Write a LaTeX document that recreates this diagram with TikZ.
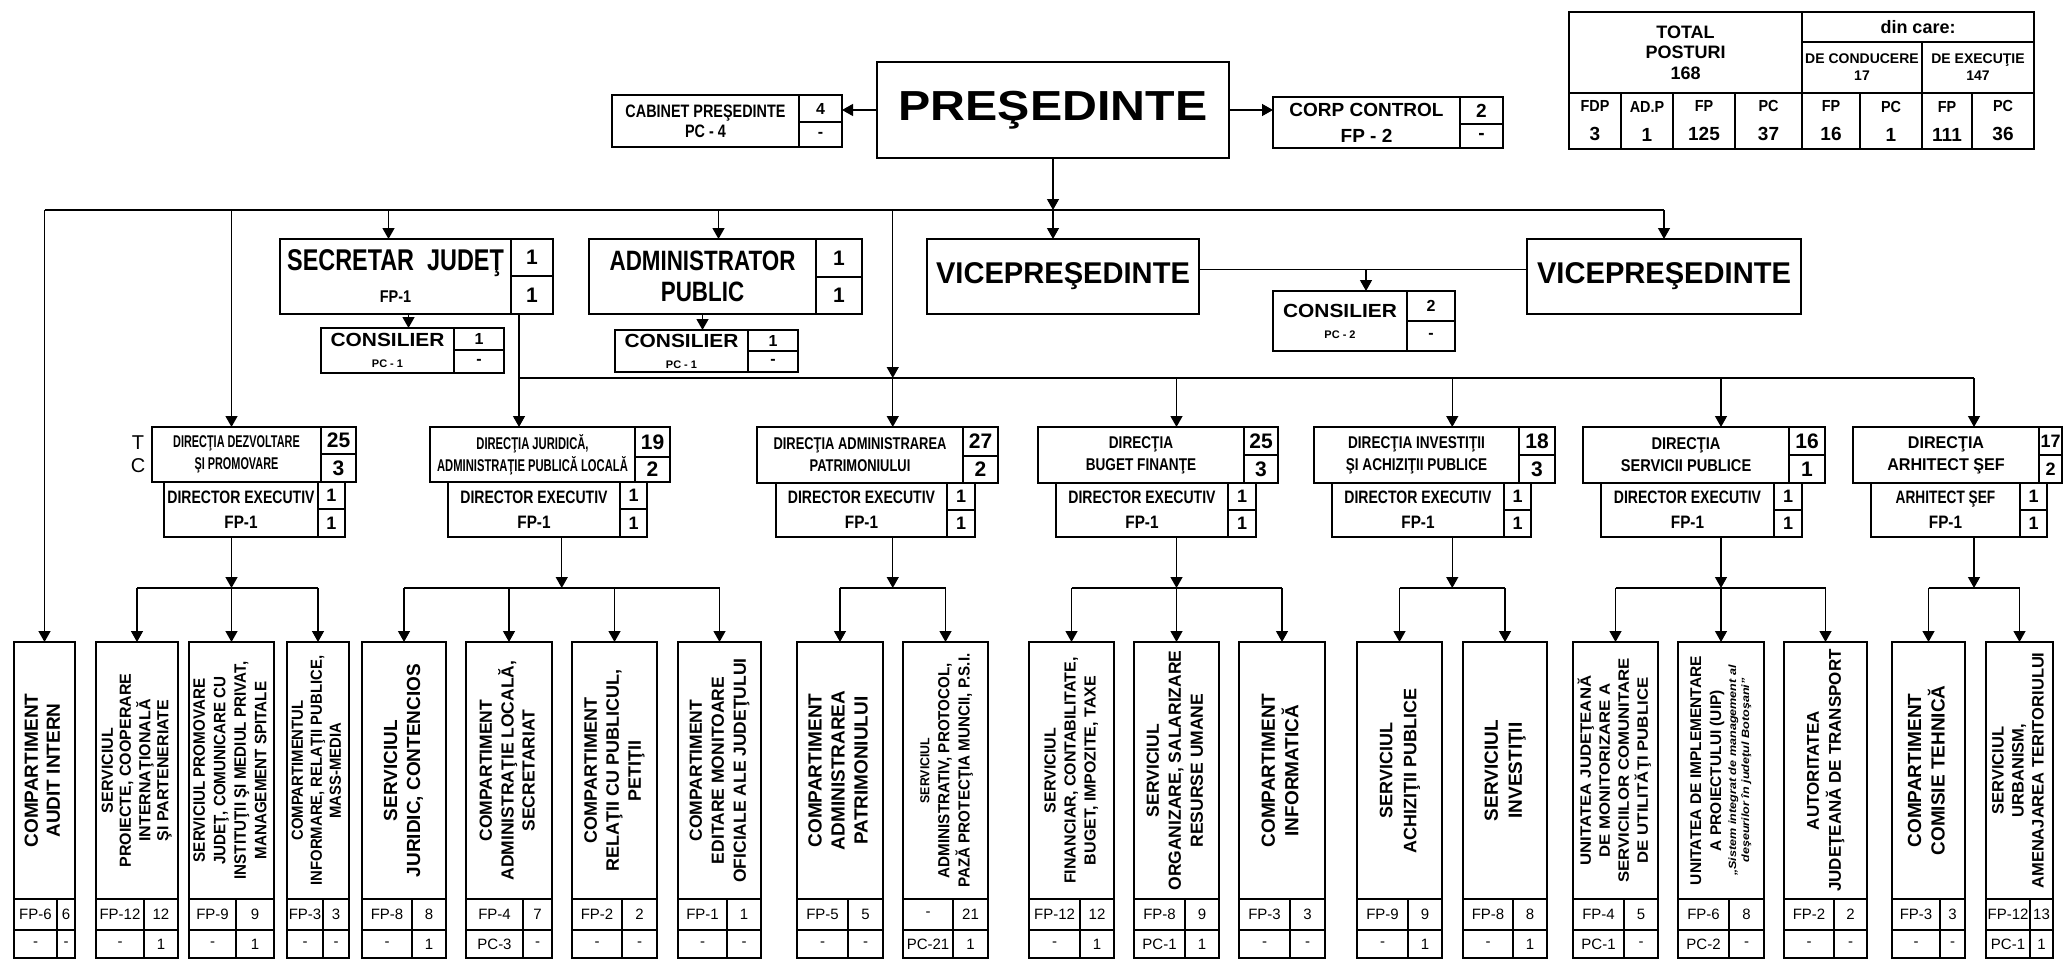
\documentclass[tikz,border=0pt]{standalone}
\usepackage{fontspec}
\setmainfont{Liberation Sans}
\usetikzlibrary{arrows.meta,calc}
\newcommand{\fs}[2]{\fontsize{#1}{#2}\selectfont}
\newcommand{\sx}[2]{\scalebox{#1}[1]{#2}}
\newcommand{\tl}[1]{\begin{tabular}{@{}c@{}}#1\end{tabular}}
\tikzset{
  ln/.style={line width=1.3pt},
  bx/.style={draw, line width=1.5pt, inner sep=0pt, outer sep=0pt, anchor=north west, align=center, font=\bfseries},
  arr/.style={line width=1.3pt, -{Triangle[length=11pt,width=12pt]}},
  rt/.style={rotate=90, inner sep=0pt, align=center, font=\bfseries},
  dat/.style={font=\fs{15}{17}},
  dt/.style={font=\bfseries\fs{17}{22}},
  dn/.style={font=\bfseries\fs{21}{22}},
  dd/.style={font=\bfseries\fs{18}{25}},
  ddn/.style={font=\bfseries\fs{18}{20}},
  nn/.style={font=\bfseries\fs{16}{18}},
  big/.style={font=\bfseries\fs{21}{22}},
  cons/.style={font=\bfseries\fs{19}{21}},
}
\newcommand{\rb}[7][]{%
  \pgfmathsetmacro{\rw}{#5-#3}\pgfmathsetmacro{\rh}{#6-#4}%
  \node[bx,minimum width=\rw pt,minimum height=\rh pt,#1] (#2) at (#3,#4) {#7};}
\newcommand{\bb}[9]{%
  \rb{#1}{#2}{642}{#3}{899}{}%
  \node[rt] (#1t) at (#1.center) {#5};%
  \rb[dat]{#1a}{#2}{899}{#4}{930}{#6}%
  \rb[dat]{#1b}{#4}{899}{#3}{930}{#7}%
  \rb[dat]{#1c}{#2}{930}{#4}{958}{#8}%
  \rb[dat]{#1d}{#4}{930}{#3}{958}{#9}%
}
\begin{document}
\begin{tikzpicture}[x=1pt,y=-1pt]
\fill[white] (0,0) rectangle (2064,959);
\useasboundingbox (0,0) rectangle (2064,959);

% ---------- bottom boxes ----------
\bb{b1}{14}{75}{57}{\fs{19}{22}\tl{COMPARTIMENT\\AUDIT INTERN}}{FP-6}{6}{-}{-}
\bb{b2}{96}{178}{144}{\fs{16}{18}\tl{SERVICIUL\\PROIECTE, COOPERARE\\INTERNAŢIONALĂ\\ŞI PARTENERIATE}}{FP-12}{12}{-}{1}
\bb{b3}{189}{274}{236}{\fs{16.5}{20.5}\sx{0.92}{\tl{SERVICIUL PROMOVARE\\JUDEŢ, COMUNICARE CU\\INSTITUŢII ŞI MEDIUL PRIVAT,\\MANAGEMENT SPITALE}}}{FP-9}{9}{-}{1}
\bb{b4}{287}{349}{323}{\fs{16}{19}\sx{0.93}{\tl{COMPARTIMENTUL\\INFORMARE, RELAŢII PUBLICE,\\MASS-MEDIA}}}{FP-3}{3}{-}{-}
\bb{b5}{362}{446}{412}{\fs{19}{23}\tl{SERVICIUL\\JURIDIC, CONTENCIOS}}{FP-8}{8}{-}{1}
\bb{b6}{466}{552}{523}{\fs{17.5}{21}\tl{COMPARTIMENT\\ADMINISTRAŢIE LOCALĂ,\\SECRETARIAT}}{FP-4}{7}{PC-3}{-}
\bb{b7}{572}{657}{622}{\fs{18}{22}\tl{COMPARTIMENT\\RELAŢII CU PUBLICUL,\\PETIŢII}}{FP-2}{2}{-}{-}
\bb{b8}{678}{761}{727}{\fs{17.5}{22}\tl{COMPARTIMENT\\EDITARE MONITOARE\\OFICIALE ALE JUDEŢULUI}}{FP-1}{1}{-}{-}
\bb{b9}{797}{883}{848}{\fs{19}{23}\tl{COMPARTIMENT\\ADMINISTRAREA\\PATRIMONIULUI}}{FP-5}{5}{-}{-}
\bb{b10}{903}{988}{953}{\fs{16}{20}\sx{0.95}{\tl{{\fs{13}{20}SERVICIUL}\\ADMINISTRATIV, PROTOCOL,\\PAZĂ PROTECŢIA MUNCII, P.S.I.}}}{-}{21}{PC-21}{1}
\bb{b11}{1029}{1114}{1080}{\fs{16}{20}\tl{SERVICIUL\\FINANCIAR, CONTABILITATE,\\BUGET, IMPOZITE, TAXE}}{FP-12}{12}{-}{1}
\bb{b12}{1134}{1219}{1185}{\fs{17.5}{22}\tl{SERVICIUL\\ORGANIZARE, SALARIZARE\\RESURSE UMANE}}{FP-8}{9}{PC-1}{1}
\bb{b13}{1239}{1325}{1290}{\fs{19}{23}\tl{COMPARTIMENT\\INFORMATICĂ}}{FP-3}{3}{-}{-}
\bb{b14}{1357}{1442}{1408}{\fs{18}{24}\tl{SERVICIUL\\ACHIZIŢII PUBLICE}}{FP-9}{9}{-}{1}
\bb{b15}{1463}{1547}{1513}{\fs{19}{24}\tl{SERVICIUL\\INVESTIŢII}}{FP-8}{8}{-}{1}
\bb{b16}{1573}{1658}{1624}{\fs{15}{19}\sx{1.12}{\tl{UNITATEA JUDEŢEANĂ\\DE MONITORIZARE A\\SERVICIILOR COMUNITARE\\DE UTILITĂŢI PUBLICE}}}{FP-4}{5}{PC-1}{-}
\bb{b17}{1678}{1764}{1729}{\fs{15.5}{20}\tl{UNITATEA DE IMPLEMENTARE\\A PROIECTULUI (UIP)\\[-5pt]{\fs{10.5}{12}\itshape\sx{1.2}{„Sistem integrat de management al}}\\[-7pt]{\fs{10.5}{12}\itshape\sx{1.2}{deşeurilor în judeţul Botoşani”}}}}{FP-6}{8}{PC-2}{-}
\bb{b18}{1784}{1867}{1834}{\fs{17}{22}\tl{AUTORITATEA\\JUDEŢEANĂ DE TRANSPORT}}{FP-2}{2}{-}{-}
\bb{b19}{1892}{1965}{1940}{\fs{19}{22}\tl{COMPARTIMENT\\COMISIE TEHNICĂ}}{FP-3}{3}{-}{-}
\bb{b20}{1986}{2053}{2030}{\fs{16.5}{20}\tl{SERVICIUL\\URBANISM,\\AMENAJAREA TERITORIULUI}}{FP-12}{13}{PC-1}{1}

% ---------- top row ----------
\rb[font=\bfseries\fs{18}{20}]{cabT}{612}{95}{799}{147}{\sx{0.8}{CABINET PREŞEDINTE}\\\sx{0.8}{PC - 4}}
\rb[nn]{cabN1}{799}{95}{842}{122}{4}
\rb[nn]{cabN2}{799}{122}{842}{147}{-}
\rb[font=\bfseries\fs{42}{46}]{pres}{877}{62}{1229}{158}{\sx{1.15}{PREŞEDINTE}}
\rb[font=\bfseries\fs{19}{26}]{corpT}{1273}{97}{1460}{148}{CORP CONTROL\\FP - 2}
\rb[font=\bfseries\fs{19}{20}]{corpN1}{1460}{97}{1503}{124}{2}
\rb[font=\bfseries\fs{19}{20}]{corpN2}{1460}{124}{1503}{148}{-}

% ---------- summary table ----------
\rb[font=\bfseries\fs{18}{20.5}]{tTot}{1569}{12}{1802}{93}{TOTAL\\POSTURI\\168}
\rb[font=\bfseries\fs{18}{20}]{tDin}{1802}{12}{2034}{42}{din care:}
\rb[font=\bfseries\fs{14}{17}]{tCond}{1802}{42}{1922}{93}{DE CONDUCERE\\17}
\rb[font=\bfseries\fs{14}{17}]{tExec}{1922}{42}{2034}{93}{DE EXECUŢIE\\147}
\foreach \i/\a/\b/\l/\v in {1/1569/1621/FDP/3,2/1621/1673/AD.P/1,3/1673/1735/FP/125,4/1735/1802/PC/37,5/1802/1860/FP/16,6/1860/1922/PC/1,7/1922/1972/FP/111,8/1972/2034/PC/36}{
  \rb[font=\bfseries\fs{16}{29}]{tc\i}{\a}{93}{\b}{149}{\sx{0.9}{\l}\\{\fs{19}{20}\v}}
}

% ---------- second row ----------
\rb[font=\bfseries\fs{30}{32}]{sjT}{280}{239}{511}{314}{\sx{0.78}{SECRETAR\ \ JUDEŢ}\\{\fs{17}{18}\sx{0.85}{FP-1}}}
\rb[big]{sjN1}{511}{239}{553}{276}{1}
\rb[big]{sjN2}{511}{276}{553}{314}{1}
\rb[cons]{sjcT}{321}{328}{454}{373}{\sx{1.1}{CONSILIER}\\{\fs{11}{12}PC - 1}}
\rb[nn]{sjcN1}{454}{328}{504}{350}{1}
\rb[nn]{sjcN2}{454}{350}{504}{373}{-}

\rb[font=\bfseries\fs{28}{31}]{apT}{589}{239}{816}{314}{\sx{0.8}{ADMINISTRATOR}\\\sx{0.8}{PUBLIC}}
\rb[big]{apN1}{816}{239}{862}{277}{1}
\rb[big]{apN2}{816}{277}{862}{314}{1}
\rb[cons]{apcT}{615}{330}{748}{372}{\sx{1.1}{CONSILIER}\\{\fs{11}{12}PC - 1}}
\rb[nn]{apcN1}{748}{330}{798}{351}{1}
\rb[nn]{apcN2}{748}{351}{798}{372}{-}

\rb[font=\bfseries\fs{30}{32}]{vp1}{927}{239}{1199}{314}{\sx{0.97}{VICEPREŞEDINTE}}
\rb[font=\bfseries\fs{30}{32}]{vp2}{1527}{239}{1801}{314}{\sx{0.97}{VICEPREŞEDINTE}}
\rb[cons]{vpcT}{1273}{291}{1407}{351}{\sx{1.1}{CONSILIER}\\{\fs{11}{12}PC - 2}}
\rb[nn]{vpcN1}{1407}{291}{1455}{321}{2}
\rb[nn]{vpcN2}{1407}{321}{1455}{351}{-}

% ---------- directorates ----------
\node[font=\fs{20}{22}] (lt) at (138,443) {T};
\node[font=\fs{20}{22}] (lc) at (138,466) {C};

\rb[dt]{dzT}{152}{427}{321}{482}{\sx{0.64}{DIRECŢIA DEZVOLTARE}\\\sx{0.64}{ŞI PROMOVARE}}
\rb[dn]{dzN1}{321}{427}{356}{454}{25}
\rb[dn]{dzN2}{321}{454}{356}{482}{3}
\rb[dd]{dzD}{164}{482}{318}{537}{\sx{0.78}{DIRECTOR EXECUTIV}\\\sx{0.85}{FP-1}}
\rb[ddn]{dzDN1}{318}{482}{345}{509}{1}
\rb[ddn]{dzDN2}{318}{509}{345}{537}{1}

\rb[dt]{jurT}{430}{427}{635}{482}{\sx{0.66}{DIRECŢIA JURIDICĂ,}\\\sx{0.66}{ADMINISTRAŢIE PUBLICĂ LOCALĂ}}
\rb[dn]{jurN1}{635}{427}{670}{457}{19}
\rb[dn]{jurN2}{635}{457}{670}{482}{2}
\rb[dd]{jurD}{448}{482}{620}{537}{\sx{0.78}{DIRECTOR EXECUTIV}\\\sx{0.85}{FP-1}}
\rb[ddn]{jurDN1}{620}{482}{647}{509}{1}
\rb[ddn]{jurDN2}{620}{509}{647}{537}{1}

\rb[dt]{patT}{757}{427}{963}{483}{\sx{0.76}{DIRECŢIA ADMINISTRAREA}\\\sx{0.76}{PATRIMONIULUI}}
\rb[dn]{patN1}{963}{427}{998}{456}{27}
\rb[dn]{patN2}{963}{456}{998}{483}{2}
\rb[dd]{patD}{776}{483}{947}{537}{\sx{0.78}{DIRECTOR EXECUTIV}\\\sx{0.85}{FP-1}}
\rb[ddn]{patDN1}{947}{483}{975}{510}{1}
\rb[ddn]{patDN2}{947}{510}{975}{537}{1}

\rb[dt]{bugT}{1038}{427}{1244}{483}{\sx{0.8}{DIRECŢIA}\\\sx{0.8}{BUGET FINANŢE}}
\rb[dn]{bugN1}{1244}{427}{1278}{455}{25}
\rb[dn]{bugN2}{1244}{455}{1278}{483}{3}
\rb[dd]{bugD}{1056}{483}{1228}{537}{\sx{0.78}{DIRECTOR EXECUTIV}\\\sx{0.85}{FP-1}}
\rb[ddn]{bugDN1}{1228}{483}{1256}{510}{1}
\rb[ddn]{bugDN2}{1228}{510}{1256}{537}{1}

\rb[dt]{invT}{1314}{427}{1519}{483}{\sx{0.8}{DIRECŢIA INVESTIŢII}\\\sx{0.8}{ŞI ACHIZIŢII PUBLICE}}
\rb[dn]{invN1}{1519}{427}{1555}{455}{18}
\rb[dn]{invN2}{1519}{455}{1555}{483}{3}
\rb[dd]{invD}{1332}{483}{1504}{537}{\sx{0.78}{DIRECTOR EXECUTIV}\\\sx{0.85}{FP-1}}
\rb[ddn]{invDN1}{1504}{483}{1531}{510}{1}
\rb[ddn]{invDN2}{1504}{510}{1531}{537}{1}

\rb[dt]{srvT}{1583}{427}{1789}{483}{\sx{0.86}{DIRECŢIA}\\\sx{0.86}{SERVICII PUBLICE}}
\rb[dn]{srvN1}{1789}{427}{1825}{455}{16}
\rb[dn]{srvN2}{1789}{455}{1825}{483}{1}
\rb[dd]{srvD}{1601}{483}{1774}{537}{\sx{0.78}{DIRECTOR EXECUTIV}\\\sx{0.85}{FP-1}}
\rb[ddn]{srvDN1}{1774}{483}{1802}{510}{1}
\rb[ddn]{srvDN2}{1774}{510}{1802}{537}{1}

\rb[dt]{arhT}{1853}{427}{2039}{483}{\sx{0.95}{DIRECŢIA}\\\sx{0.95}{ARHITECT ŞEF}}
\rb[font=\bfseries\fs{18}{20}]{arhN1}{2039}{427}{2062}{455}{17}
\rb[font=\bfseries\fs{18}{20}]{arhN2}{2039}{455}{2062}{483}{2}
\rb[dd]{arhD}{1871}{483}{2020}{537}{\sx{0.76}{ARHITECT ŞEF}\\\sx{0.85}{FP-1}}
\rb[ddn]{arhDN1}{2020}{483}{2047}{510}{1}
\rb[ddn]{arhDN2}{2020}{510}{2047}{537}{1}

% ---------- helper coordinates ----------
\coordinate (jx) at ($(b6.north)!0.5!(b7.north)$);
\coordinate (px) at ($(b9.north)!0.5!(b10.north)$);
\coordinate (ix) at ($(b14.north)!0.5!(b15.north)$);
\coordinate (ax) at ($(b19.north)!0.5!(b20.north)$);
\coordinate (sjx) at ([xshift=-13pt]sjN2.south);
\coordinate (vx) at ([xshift=26pt]vpcT.north);

% ---------- connectors: top ----------
\draw[arr] (pres.west) -- (pres.west -| cabN1.east);
\draw[arr] (pres.east) -- (pres.east -| corpT.west);
\draw[ln] (b1.north |- 0,210) -- (vp2.north |- 0,210);
\draw[arr] (pres.south) -- (pres.south |- 0,210);
\draw[arr] (pres.south |- 0,210) -- (pres.south |- vp1.north);
\draw[arr] (vp2.north |- 0,210) -- (vp2.north);
\draw[arr] (b1.north |- 0,210) -- (b1.north);
\draw[arr] (b3.north |- 0,210) -- (b3.north |- dzT.north);
\draw[arr] ([xshift=-7pt]sjT.north |- 0,210) -- ([xshift=-7pt]sjT.north);
\draw[arr] ([xshift=16pt]apT.north |- 0,210) -- ([xshift=16pt]apT.north);
\draw[arr] ([xshift=13pt]sjT.south) -- ([xshift=13pt]sjT.south |- sjcT.north);
\draw[arr] (apT.south) -- (apT.south |- apcT.north);
\draw[ln] ([yshift=7pt]vp1.east) -- ([yshift=7pt]vp1.east -| vp2.west);
\draw[arr] (vx |- 0,269.5) -- (vx);

% ---------- connectors: directorates ----------
\draw[arr] (sjx) -- (sjx |- jurT.north);
\draw[ln] (sjx |- 0,378) -- (ax |- 0,378);
\draw[arr] (px |- 0,210) -- (px |- 0,378);
\draw[arr] (px |- 0,378) -- (px |- patT.north);
\draw[arr] (b12.north |- 0,378) -- (b12.north |- bugT.north);
\draw[arr] (ix |- 0,378) -- (ix |- invT.north);
\draw[arr] (b17.north |- 0,378) -- (b17.north |- srvT.north);
\draw[arr] (ax |- 0,378) -- (ax |- arhT.north);

% ---------- connectors: to sub-buses ----------
\draw[arr] (b3.north |- dzD.south) -- (b3.north |- 0,588);
\draw[arr] (jx |- jurD.south) -- (jx |- 0,588);
\draw[arr] (px |- patD.south) -- (px |- 0,588);
\draw[arr] (b12.north |- bugD.south) -- (b12.north |- 0,588);
\draw[arr] (ix |- invD.south) -- (ix |- 0,588);
\draw[arr] (b17.north |- srvD.south) -- (b17.north |- 0,588);
\draw[arr] (ax |- arhD.south) -- (ax |- 0,588);

\draw[ln] (b2.north |- 0,588) -- (b4.north |- 0,588);
\draw[ln] (b5.north |- 0,588) -- (b8.north |- 0,588);
\draw[ln] (b9.north |- 0,588) -- (b10.north |- 0,588);
\draw[ln] (b11.north |- 0,588) -- (b13.north |- 0,588);
\draw[ln] (b14.north |- 0,588) -- (b15.north |- 0,588);
\draw[ln] (b16.north |- 0,588) -- (b18.north |- 0,588);
\draw[ln] (b19.north |- 0,588) -- (b20.north |- 0,588);
\foreach \n in {b2,b3,b4,b5,b6,b7,b8,b9,b10,b11,b12,b13,b14,b15,b16,b17,b18,b19,b20}
  \draw[arr] (\n.north |- 0,588) -- (\n.north);
\end{tikzpicture}
\end{document}
